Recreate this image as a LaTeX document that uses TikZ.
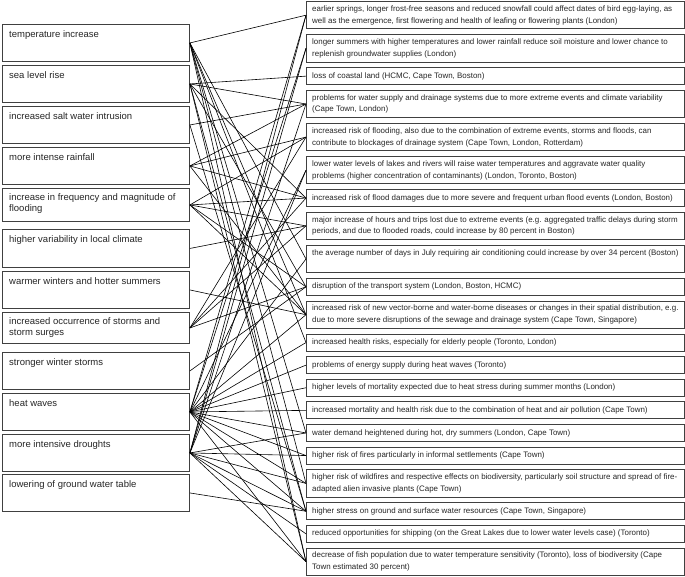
\documentclass[tikz,border=0pt]{standalone}
\usepackage{fontspec}
\setmainfont{Liberation Sans}
\begin{document}
\begin{tikzpicture}[x=1pt,y=-1pt,
  box/.style={draw=black!75, line width=0.9pt, rectangle, inner sep=0pt, anchor=north west, fill=white},
  lb/.style={box, minimum width=187pt, minimum height=37pt},
  rb1/.style={box, minimum width=378pt, minimum height=17pt},
  rb2/.style={box, minimum width=378pt, minimum height=27.5pt},
  ltxt/.style={font=\fontsize{9.5}{11.5}\selectfont, align=left, inner sep=0pt, anchor=north west, text=black!85},
  rtxt/.style={font=\fontsize{7.95}{11.8}\selectfont, align=left, inner sep=0pt, anchor=west, text=black!85},
  link/.style={line width=0.6pt, black}]
\useasboundingbox (0,0) rectangle (685,577);

% left boxes
\node[lb] (l1) at (2,24) {};
\node[lb] (l2) at (2,65) {};
\node[lb] (l3) at (2,106) {};
\node[lb] (l4) at (2,147) {};
\node[lb, minimum height=33pt] (l5) at (2,188) {};
\node[lb, minimum height=38pt] (l6) at (2,229) {};
\node[lb] (l7) at (2,271) {};
\node[lb, minimum height=31pt] (l8) at (2,312) {};
\node[lb] (l9) at (2,352) {};
\node[lb] (l10) at (2,393) {};
\node[lb] (l11) at (2,434) {};
\node[lb] (l12) at (2,474) {};

\node[ltxt] (lt1) at ([shift={(7pt,-6pt)}]l1.north west) {temperature increase};
\node[ltxt] (lt2) at ([shift={(7pt,-6pt)}]l2.north west) {sea level rise};
\node[ltxt] (lt3) at ([shift={(7pt,-6pt)}]l3.north west) {increased salt water intrusion};
\node[ltxt] (lt4) at ([shift={(7pt,-6pt)}]l4.north west) {more intense rainfall};
\node[ltxt] (lt5) at ([shift={(7pt,-5pt)}]l5.north west) {increase in frequency and magnitude of\\flooding};
\node[ltxt] (lt6) at ([shift={(7pt,-6pt)}]l6.north west) {higher variability in local climate};
\node[ltxt] (lt7) at ([shift={(7pt,-6pt)}]l7.north west) {warmer winters and hotter summers};
\node[ltxt] (lt8) at ([shift={(7pt,-5pt)}]l8.north west) {increased occurrence of storms and\\storm surges};
\node[ltxt] (lt9) at ([shift={(7pt,-6pt)}]l9.north west) {stronger winter storms};
\node[ltxt] (lt10) at ([shift={(7pt,-6pt)}]l10.north west) {heat waves};
\node[ltxt] (lt11) at ([shift={(7pt,-6pt)}]l11.north west) {more intensive droughts};
\node[ltxt] (lt12) at ([shift={(7pt,-6pt)}]l12.north west) {lowering of ground water table};

% right boxes
\node[rb2] (r1) at (306,1) {};
\node[rb2] (r2) at (306,34.1) {};
\node[rb1] (r3) at (306,67.2) {};
\node[rb2] (r4) at (306,89.8) {};
\node[rb2] (r5) at (306,122.9) {};
\node[rb2] (r6) at (306,156) {};
\node[rb1] (r7) at (306,189.1) {};
\node[rb2] (r8) at (306,211.7) {};
\node[rb2] (r9) at (306,244.8) {};
\node[rb1] (r10) at (306,277.9) {};
\node[rb2] (r11) at (306,300.5) {};
\node[rb1] (r12) at (306,333.6) {};
\node[rb1] (r13) at (306,356.2) {};
\node[rb1] (r14) at (306,378.8) {};
\node[rb1] (r15) at (306,401.4) {};
\node[rb1] (r16) at (306,424) {};
\node[rb1] (r17) at (306,446.6) {};
\node[rb2] (r18) at (306,469.2) {};
\node[rb1] (r19) at (306,502.3) {};
\node[rb1] (r20) at (306,524.9) {};
\node[rb2] (r21) at (306,547.5) {};

\node[rtxt] (rt1) at ([xshift=6pt]r1.west) {earlier springs, longer frost-free seasons and reduced snowfall could affect dates of bird egg-laying, as\\well as the emergence, first flowering and health of leafing or flowering plants (London)};
\node[rtxt] (rt2) at ([xshift=6pt]r2.west) {longer summers with higher temperatures and lower rainfall reduce soil moisture and lower chance to\\replenish groundwater supplies (London)};
\node[rtxt] (rt3) at ([xshift=6pt]r3.west) {loss of coastal land (HCMC, Cape Town, Boston)};
\node[rtxt] (rt4) at ([xshift=6pt]r4.west) {problems for water supply and drainage systems due to more extreme events and climate variability\\(Cape Town, London)};
\node[rtxt] (rt5) at ([xshift=6pt]r5.west) {increased risk of flooding, also due to the combination of extreme events, storms and floods, can\\contribute to blockages of drainage system (Cape Town, London, Rotterdam)};
\node[rtxt] (rt6) at ([xshift=6pt]r6.west) {lower water levels of lakes and rivers will raise water temperatures and aggravate water quality\\problems (higher concentration of contaminants) (London, Toronto, Boston)};
\node[rtxt] (rt7) at ([xshift=6pt]r7.west) {increased risk of flood damages due to more severe and frequent urban flood events (London, Boston)};
\node[rtxt] (rt8) at ([xshift=6pt]r8.west) {major increase of hours and trips lost due to extreme events (e.g. aggregated traffic delays during storm\\periods, and due to flooded roads, could increase by 80 percent in Boston)};
\node[rtxt] (rt9) at ([xshift=6pt]r9.west) {the average number of days in July requiring air conditioning could increase by over 34 percent (Boston)\\\mbox{}};
\node[rtxt] (rt10) at ([xshift=6pt]r10.west) {disruption of the transport system (London, Boston, HCMC)};
\node[rtxt] (rt11) at ([xshift=6pt]r11.west) {increased risk of new vector-borne and water-borne diseases or changes in their spatial distribution, e.g.\\due to more severe disruptions of the sewage and drainage system (Cape Town, Singapore)};
\node[rtxt] (rt12) at ([xshift=6pt]r12.west) {increased health risks, especially for elderly people (Toronto, London)};
\node[rtxt] (rt13) at ([xshift=6pt]r13.west) {problems of energy supply during heat waves (Toronto)};
\node[rtxt] (rt14) at ([xshift=6pt]r14.west) {higher levels of mortality expected due to heat stress during summer months (London)};
\node[rtxt] (rt15) at ([xshift=6pt]r15.west) {increased mortality and health risk due to the combination of heat and air pollution (Cape Town)};
\node[rtxt] (rt16) at ([xshift=6pt]r16.west) {water demand heightened during hot, dry summers (London, Cape Town)};
\node[rtxt] (rt17) at ([xshift=6pt]r17.west) {higher risk of fires particularly in informal settlements (Cape Town)};
\node[rtxt] (rt18) at ([xshift=6pt]r18.west) {higher risk of wildfires and respective effects on biodiversity, particularly soil structure and spread of fire-\\adapted alien invasive plants (Cape Town)};
\node[rtxt] (rt19) at ([xshift=6pt]r19.west) {higher stress on ground and surface water resources (Cape Town, Singapore)};
\node[rtxt] (rt20) at ([xshift=6pt]r20.west) {reduced opportunities for shipping (on the Great Lakes due to lower water levels case) (Toronto)};
\node[rtxt] (rt21) at ([xshift=6pt]r21.west) {decrease of fish population due to water temperature sensitivity (Toronto), loss of biodiversity (Cape\\Town estimated 30 percent)};

% connectors
\foreach \a/\b in {l1/r1, l1/r9, l1/r11, l1/r12, l1/r16, l1/r18, l1/r21,
                   l2/r3, l2/r4, l2/r7, l2/r10, l2/r19, l2/r21,
                   l3/r4, l3/r19,
                   l4/r4, l4/r5, l4/r7, l4/r11,
                   l5/r5, l5/r7, l5/r8, l5/r10, l5/r11,
                   l6/r8, l7/r11, l8/r5, l8/r7, l8/r8, l8/r10, l9/r10,
                   l10/r1, l10/r2, l10/r6, l10/r9, l10/r11, l10/r12, l10/r13, l10/r14, l10/r15, l10/r16, l10/r17, l10/r18, l10/r19, l10/r21,
                   l11/r1, l11/r2, l11/r4, l11/r6, l11/r16, l11/r17, l11/r18, l11/r19, l11/r20, l11/r21,
                   l12/r19}
  \draw[link] (\a.east) -- (\b.west);
\end{tikzpicture}
\end{document}
